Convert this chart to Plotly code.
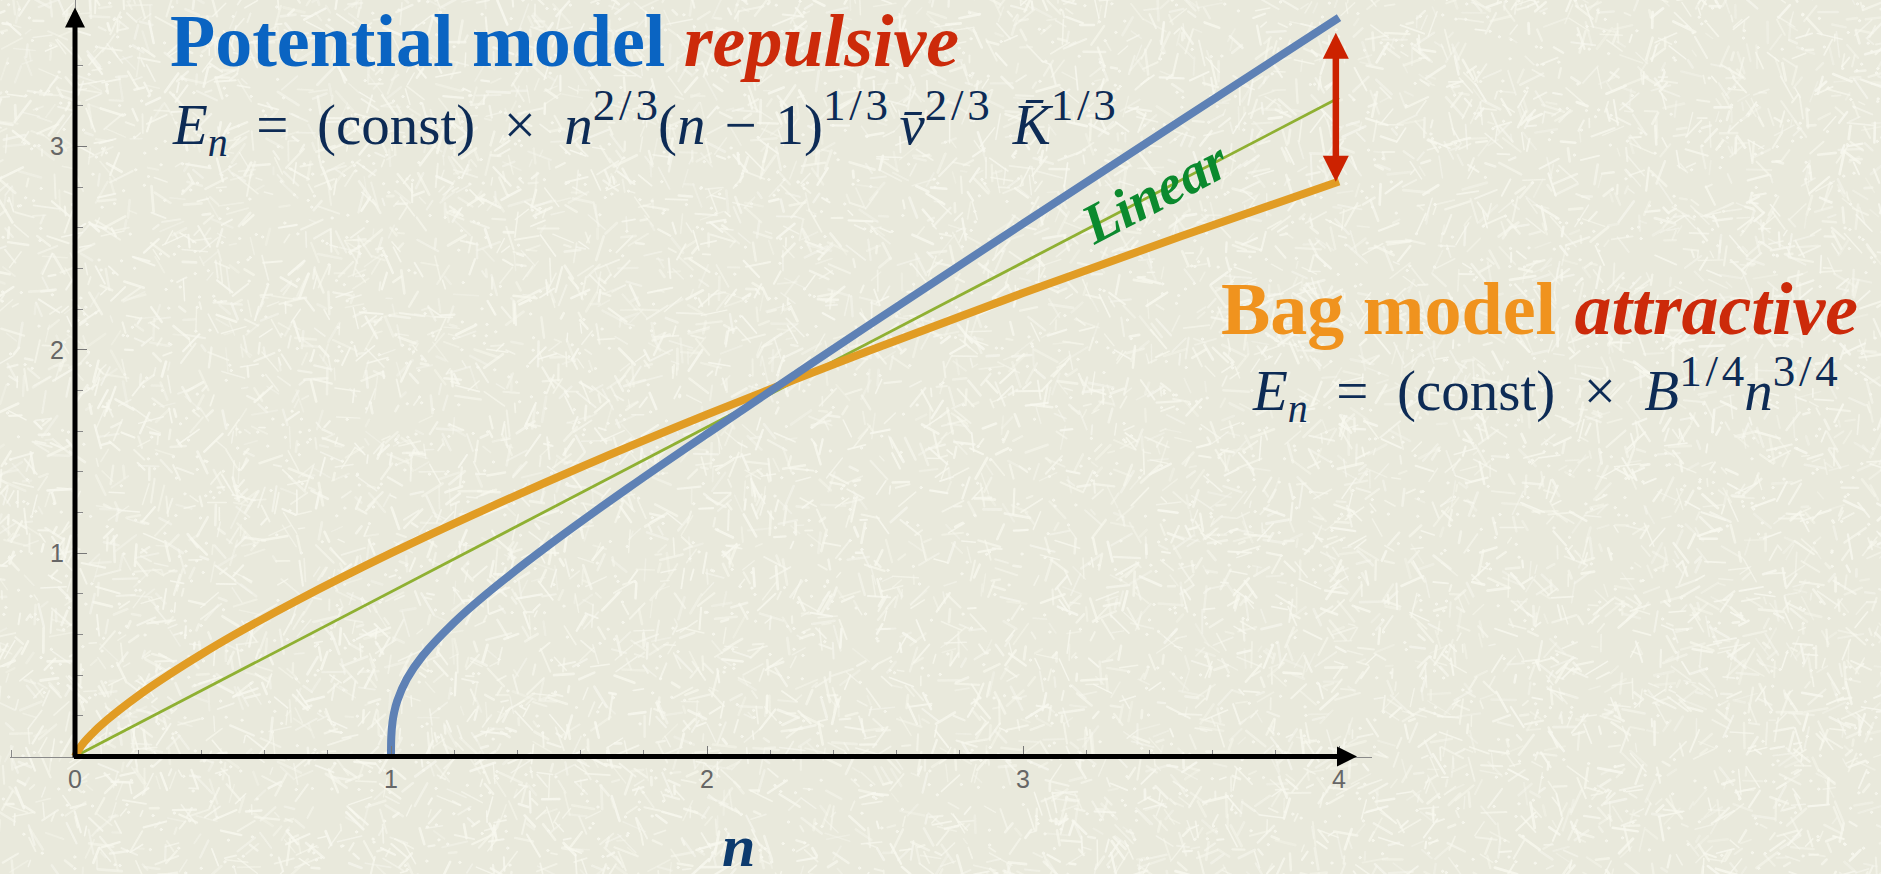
import base64
import numpy as np
import plotly.graph_objects as go

# Sample points
n_bag = [0.0, 0.02, 0.05, 0.1, 0.2, 0.3, 0.4, 0.5, 0.7, 1.0, 1.3, 1.6, 2.0, 2.5, 3.0, 3.5, 4.0]
E_bag = [0.0, 0.053, 0.106, 0.178, 0.299, 0.405, 0.503, 0.595, 0.765, 1.0, 1.217, 1.423, 1.682, 1.988, 2.280, 2.559, 2.828]

n_pot = [1.0, 1.001, 1.005, 1.01, 1.02, 1.05, 1.1, 1.2, 1.3, 1.5, 1.75, 2.0, 2.5, 3.0, 3.5, 4.0]
E_pot = [0.0, 0.100, 0.172, 0.217, 0.275, 0.381, 0.495, 0.660, 0.797, 1.040, 1.320, 1.587, 2.109, 2.621, 3.129, 3.634]

n_lin = [0.0, 4.0]
E_lin = [0.0, 3.24]

x_ticks = [0, 1, 2, 3, 4]
y_ticks = [1, 2, 3]

# Gap arrow at n = 4, between the bag-model value and the potential-model side
gap_n = 3.99
gap_low = 2.82
gap_high = 3.56

W, H = 1881, 874
X0_PX, Y0_PX = 75, 756.5          # pixel position of the origin
PX_PER_X, PX_PER_Y = 316.0, 203.3

BG = "#e9e9dc"

# paper texture: dense short pale scratches
rng = np.random.default_rng(7)
cnt = 9500
cx = rng.uniform(-20, W + 20, cnt)
cy = rng.uniform(-20, H + 20, cnt)
ang = rng.uniform(0, np.pi, cnt)
ln = rng.uniform(6, 26, cnt)
sw = rng.uniform(1.4, 2.8, cnt)
op = rng.uniform(0.35, 0.85, cnt)
parts = []
for i in range(cnt):
    dx, dy = np.cos(ang[i]) * ln[i] / 2, np.sin(ang[i]) * ln[i] / 2
    parts.append(
        f'<line x1="{cx[i]-dx:.1f}" y1="{cy[i]-dy:.1f}" x2="{cx[i]+dx:.1f}" y2="{cy[i]+dy:.1f}" '
        f'stroke-width="{sw[i]:.2f}" stroke-opacity="{op[i]:.2f}"/>'
    )
dots = rng.uniform(0, 1, (2500, 2))
for px, py in dots:
    parts.append(f'<circle cx="{px*W:.1f}" cy="{py*H:.1f}" r="1.1" fill-opacity="0.7"/>')
svg = (
    f'<svg xmlns="http://www.w3.org/2000/svg" width="{W}" height="{H}">'
    f'<rect width="{W}" height="{H}" fill="{BG}"/>'
    f'<g stroke="#f8f8ef" fill="#f8f8ef" stroke-linecap="round">{"".join(parts)}</g></svg>'
)
texture = "data:image/svg+xml;base64," + base64.b64encode(svg.encode()).decode()

fig = go.Figure()
fig.add_trace(go.Scatter(x=n_lin, y=E_lin, mode="lines",
                         line=dict(color="#8FB032", width=2.8), hoverinfo="skip"))
fig.add_trace(go.Scatter(x=n_bag, y=E_bag, mode="lines", line_shape="spline",
                         line=dict(color="#E19C24", width=8), hoverinfo="skip"))
fig.add_trace(go.Scatter(x=n_pot, y=E_pot, mode="lines", line_shape="spline",
                         line=dict(color="#5E81B5", width=8), hoverinfo="skip"))

x_left_px, x_right_px = 10, 1372
xr = [(x_left_px - X0_PX) / PX_PER_X, (x_right_px - X0_PX) / PX_PER_X]
y_pos = (H - Y0_PX) / H
yr = [0, Y0_PX / PX_PER_Y]

tickfont = dict(family="Liberation Sans, Arial", size=25, color="#666666")

fig.update_xaxes(
    domain=[x_left_px / W, x_right_px / W], range=xr, anchor="free", position=y_pos,
    showline=True, linecolor="#8a8a8a", linewidth=1, showgrid=False, zeroline=False,
    tickmode="array", tickvals=x_ticks, ticks="inside", ticklen=11, tickcolor="#777777",
    tickwidth=1, tickfont=tickfont, ticklabelstandoff=0,
    minor=dict(dtick=0.2, tick0=0, ticks="inside", ticklen=7, tickcolor="#888888", tickwidth=1),
)
fig.update_yaxes(
    domain=[y_pos, 1], range=yr, anchor="free", position=X0_PX / W,
    showline=True, linecolor="#8a8a8a", linewidth=1, showgrid=False, zeroline=False,
    tickmode="array", tickvals=y_ticks, ticks="inside", ticklen=11, tickcolor="#777777",
    tickwidth=1, tickfont=tickfont, ticklabelstandoff=6,
    minor=dict(dtick=0.2, tick0=0, ticks="inside", ticklen=7, tickcolor="#888888", tickwidth=1),
)

annotations = []
# black axis arrows
annotations.append(dict(x=4.057, y=0, ax=-0.008, ay=0, xref="x", yref="y", axref="x", ayref="y",
                        text="", showarrow=True, arrowhead=2, arrowsize=0.8, arrowwidth=5,
                        arrowcolor="black", standoff=0))
annotations.append(dict(x=0, y=3.684, ax=0, ay=-0.012, xref="x", yref="y", axref="x", ayref="y",
                        text="", showarrow=True, arrowhead=2, arrowsize=0.8, arrowwidth=5,
                        arrowcolor="black", standoff=0))
# red double-headed gap arrow
annotations.append(dict(x=gap_n, y=gap_high, ax=gap_n, ay=gap_low, xref="x", yref="y",
                        axref="x", ayref="y", text="", showarrow=True, arrowside="end+start",
                        arrowhead=2, startarrowhead=2, arrowsize=0.8, startarrowsize=0.8,
                        arrowwidth=6.5, arrowcolor="#cc2200", standoff=0, startstandoff=0))

serif = "Liberation Serif, Times New Roman, serif"
RED = "#cc2a0a"
NAVY = "#0d2b55"
SP = "\u2002"            # space around = and ×
MS = "\u2005\u200a"      # space around the minus sign
TH = "\u2009"            # thin space
HS = "\u200a"            # hair space


def sup(s):
    body = HS.join(s)
    return f"<sup><span style='font-size:45px'>{body}</span></sup>"


annotations.append(dict(
    x=168 / W, y=1 - 41 / H, xref="paper", yref="paper", xanchor="left", yanchor="middle",
    showarrow=False, font=dict(family=serif, size=74, color="#0a64c2"),
    text=f"<b>Potential model <i><span style='color:{RED}'>repulsive</span></i></b>"))
annotations.append(dict(
    x=170 / W, y=1 - 123 / H, xref="paper", yref="paper", xanchor="left", yanchor="middle",
    showarrow=False, font=dict(family=serif, size=57, color=NAVY),
    text=f"<i>E</i><sub><i>n</i></sub>{SP}={SP}(const){SP}×{SP}<i>n</i>{sup('2/3')}"
         f"(<i>n</i>{MS}−{MS}1){sup('1/3')}{TH}<i>v\u0304</i>{sup('2/3')}{TH}{TH}"
         f"<i>K\u0304</i>{sup('1/3')}"))
annotations.append(dict(
    x=1860 / W, y=1 - 309 / H, xref="paper", yref="paper", xanchor="right", yanchor="middle",
    showarrow=False, font=dict(family=serif, size=74, color="#f0931e"),
    text=f"<b>Bag model <i><span style='color:{RED}'>attractive</span></i></b>"))
annotations.append(dict(
    x=1840 / W, y=1 - 388 / H, xref="paper", yref="paper", xanchor="right", yanchor="middle",
    showarrow=False, font=dict(family=serif, size=57, color=NAVY),
    text=f"<i>E</i><sub><i>n</i></sub>{SP}={SP}(const){SP}×{SP}<i>B</i>{sup('1/4')}"
         f"<i>n</i>{sup('3/4')}"))
annotations.append(dict(
    x=1155 / W, y=1 - 192 / H, xref="paper", yref="paper", xanchor="center", yanchor="middle",
    showarrow=False, textangle=-27.5, font=dict(family=serif, size=56, color="#0b8a2e"),
    text="<b><i>Linear</i></b>"))
annotations.append(dict(
    x=738 / W, y=1 - 846 / H, xref="paper", yref="paper", xanchor="center", yanchor="middle",
    showarrow=False, font=dict(family=serif, size=60, color="#0d3b6e"),
    text="<b><i>n</i></b>"))

fig.update_layout(
    width=W, height=H, margin=dict(l=0, r=0, t=0, b=0),
    paper_bgcolor=BG, plot_bgcolor="rgba(0,0,0,0)", showlegend=False,
    annotations=annotations,
    images=[dict(source=texture, xref="paper", yref="paper", x=0, y=1, sizex=1, sizey=1,
                 xanchor="left", yanchor="top", sizing="stretch", layer="below")],
)

fig.write_html("out.html", config={"displayModeBar": False})
